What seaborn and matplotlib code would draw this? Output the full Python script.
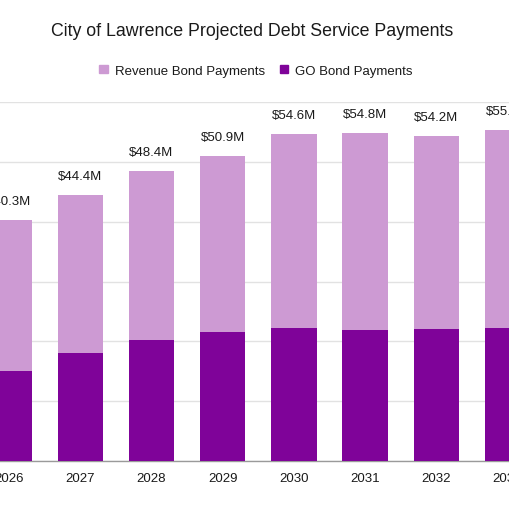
import numpy as np
import pandas as pd
import matplotlib
matplotlib.use("Agg")
import matplotlib.pyplot as plt
from matplotlib.patches import Patch
import seaborn as sns

# values in $M
years = ["2026", "2027", "2028", "2029", "2030", "2031", "2032", "2033"]
go_bond = [15.0, 18.0, 20.3, 21.5, 22.2, 21.9, 22.1, 22.2]
revenue_bond = [25.3, 26.4, 28.1, 29.4, 32.4, 32.9, 32.1, 33.0]

light = "#cd9ad3"
dark = "#7f0399"

sns.set_theme(style="white")
plt.rcParams["font.family"] = ["Liberation Sans", "DejaVu Sans"]

df = pd.DataFrame({"year": years, "go": go_bond, "rev": revenue_bond})
df["total"] = df["go"] + df["rev"]

fig = plt.figure(figsize=(5.1, 5.1), dpi=100)
# the chart is cropped at both sides, so the axes run past the figure
ax = fig.add_axes([-0.052, 0.0935, 1.117, 0.7051])

sns.barplot(data=df, x="year", y="total", color=light, width=0.64,
            saturation=1, linewidth=0, ax=ax, zorder=2)
sns.barplot(data=df, x="year", y="go", color=dark, width=0.64,
            saturation=1, linewidth=0, ax=ax, zorder=3)

for i, t in enumerate(df["total"]):
    ax.annotate(f"${t:.1f}M", (i, t), xytext=(0, 9.5), textcoords="offset points",
                ha="center", va="bottom", fontsize=9.5, color="#1a1a1a")

ax.set_xlim(-0.5, 7.5)
ax.set_ylim(0, 60)
ax.set_yticks(np.arange(0, 61, 10))
ax.set_yticklabels([])
ax.yaxis.grid(True, color="#e2e2e2", linewidth=1, zorder=0)
ax.set_axisbelow(True)
for s in ["top", "right", "left"]:
    ax.spines[s].set_visible(False)
ax.spines["bottom"].set_color("#9a9a9a")
ax.spines["bottom"].set_linewidth(1)
ax.set_xlabel("")
ax.set_ylabel("")
ax.tick_params(axis="x", length=0, pad=8, labelsize=9.5, labelcolor="#1a1a1a")
ax.tick_params(axis="y", length=0)

fig.text(0.495, 1 - 31.7 / 510, "City of Lawrence Projected Debt Service Payments",
         ha="center", va="center", fontsize=12.8, color="#1a1a1a")

handles = [Patch(color=light, label="Revenue Bond Payments"),
           Patch(color=dark, label="GO Bond Payments")]
fig.legend(handles=handles, loc="center", bbox_to_anchor=(0.502, 1 - 71.7 / 510),
           ncol=2, frameon=False, fontsize=9.5, handlelength=0.65, handleheight=0.65,
           handletextpad=0.55, columnspacing=1.1, labelcolor="#1a1a1a")

fig.savefig("out.png", dpi=100)
